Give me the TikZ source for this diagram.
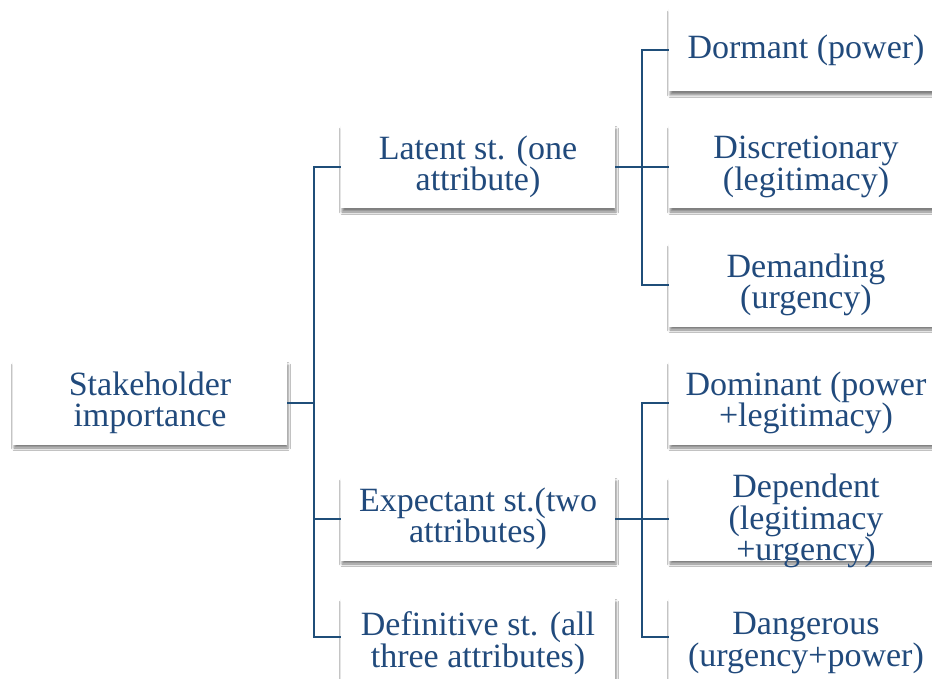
\documentclass[tikz,border=0pt]{standalone}
\usepackage{fontspec}
\setmainfont{Liberation Serif}
\usetikzlibrary{shadows.blur}

\definecolor{inkblue}{RGB}{33,74,124}
\definecolor{linkblue}{RGB}{31,78,121}

\tikzset{
  card/.style={draw=none, fill=white, minimum width=274pt, minimum height=83pt,
    inner sep=0pt,
    blur shadow={shadow xshift=1pt, shadow yshift=-3.5pt,
                 shadow blur radius=2.5pt, shadow opacity=50}},
  caption/.style={text=inkblue, font=\fontsize{34pt}{31.5pt}\selectfont,
    align=center, inner sep=0pt},
  link/.style={draw=linkblue, line width=2.4pt, line join=miter}
}

\begin{document}
\begin{tikzpicture}[x=1pt,y=-1pt]
  \useasboundingbox (0,0) rectangle (932,679);
  \fill[white] (0,0) rectangle (932,679);

  % boxes: root, middle column, right column
  \node[card] (sh)  at (150,403) {};
  \node[card] (lat) at (478,167) {};
  \node[card] (exp) at (478,519) {};
  \node[card] (def) at (478,640) {};
  \node[card] (dor) at (806,50)  {};
  \node[card] (dis) at (806,167) {};
  \node[card] (dem) at (806,285) {};
  \node[card] (dom) at (806,403) {};
  \node[card] (dep) at (806,519) {};
  \node[card] (dan) at (806,640) {};

  % junction points of the tree
  \coordinate (j0) at (314,403);
  \coordinate (j1) at (642,167);
  \coordinate (j2) at (642,519);

  \draw[link] (sh.east) -- (j0);
  \draw[link] (j0) |- (lat.west);
  \draw[link] (j0) |- (exp.west);
  \draw[link] (j0) |- ([yshift=3pt]def.west);

  \draw[link] (lat.east) -- (j1);
  \draw[link] (j1) |- (dor.west);
  \draw[link] (j1) |- (dis.west);
  \draw[link] (j1) |- (dem.west);

  \draw[link] (exp.east) -- (j2);
  \draw[link] (j2) |- (dom.west);
  \draw[link] (j2) |- (dep.west);
  \draw[link] (j2) |- ([yshift=3pt]dan.west);

  % captions
  \node[caption] (sh-t)  at (sh)  {Stakeholder\\importance};
  \node[caption] (lat-t) at (lat) {Latent st. (one\\attribute)};
  \node[caption] (exp-t) at (exp) {Expectant st.(two\\attributes)};
  \node[caption] (def-t) at ([yshift=-3pt]def) {Definitive st. (all\\three attributes)};
  \node[caption] (dor-t) at (dor) {Dormant (power)};
  \node[caption] (dis-t) at (dis) {Discretionary\\(legitimacy)};
  \node[caption] (dem-t) at (dem) {Demanding\\(urgency)};
  \node[caption] (dom-t) at (dom) {Dominant (power\\+legitimacy)};
  \node[caption] (dep-t) at ([yshift=-2pt]dep) {Dependent\\(legitimacy\\+urgency)};
  \node[caption] (dan-t) at ([yshift=-3pt]dan) {Dangerous\\(urgency+power)};
\end{tikzpicture}
\end{document}
